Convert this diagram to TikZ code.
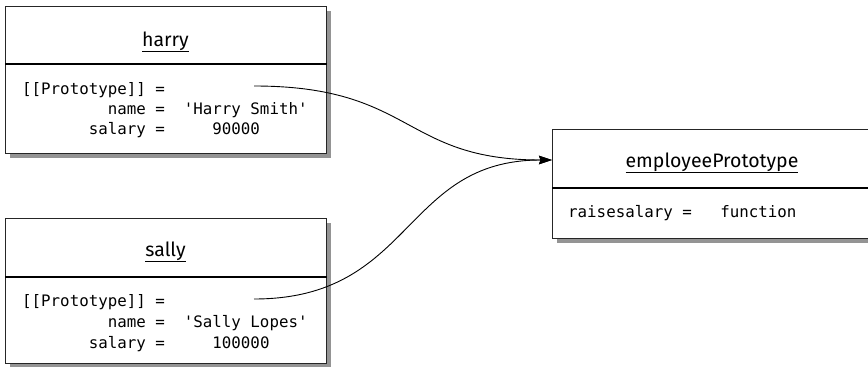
\documentclass[tikz,border=0pt]{standalone}
\usepackage{fontspec}
\setmainfont{Fira Sans}
\setmonofont{DejaVu Sans Mono}
\usetikzlibrary{arrows.meta,shadows}
\begin{document}
\begin{tikzpicture}[x=1pt,y=-1pt,
  objbox/.style={draw=black!85, line width=1.3pt, fill=white, inner sep=0pt, anchor=north west,
    drop shadow={shadow xshift=4.5pt, shadow yshift=-4.5pt, fill=black!42, opacity=1}},
  sep/.style={line width=2pt, black},
  ttl/.style={anchor=base, inner sep=0pt, font=\fontsize{19.5}{22}\selectfont},
  mono/.style={anchor=base west, inner sep=0pt, font=\fontsize{15.8}{19}\ttfamily},
  conn/.style={line width=0.9pt, black},
  tip/.style={-{Stealth[length=13pt,width=8.5pt,inset=1.5pt]}}
]
\useasboundingbox (0,0) rectangle (868,367);

% harry
\node[objbox, minimum width=321pt, minimum height=147pt] (harry) at (5,6) {};
\coordinate (hsep) at (5,64);
\draw[sep] (hsep) -- (hsep -| harry.east);
\node[ttl] (harryT) at (165.5,46) {\underline{harry}};
\node[mono] (h1) at (22,94) {[[Prototype]]~=};
\node[mono] (h2) at (22,114) {~~~~~~~~~name~=~~'Harry~Smith'};
\node[mono] (h3) at (22,134) {~~~~~~~salary~=~~~~~90000};
\coordinate (hp) at (254,86);

% sally
\node[objbox, minimum width=321pt, minimum height=145pt] (sally) at (5,218) {};
\coordinate (ssep) at (5,277);
\draw[sep] (ssep) -- (ssep -| sally.east);
\node[ttl] (sallyT) at (165.5,256) {\underline{sally}};
\node[mono] (s1) at (22,306) {[[Prototype]]~=};
\node[mono] (s2) at (22,327) {~~~~~~~~~name~=~~'Sally~Lopes'};
\node[mono] (s3) at (22,348) {~~~~~~~salary~=~~~~~100000};
\coordinate (sp) at (254,299);

% employeePrototype
\node[objbox, minimum width=330pt, minimum height=109pt] (emp) at (552,129) {};
\coordinate (esep) at (552,188);
\draw[sep] (esep) -- (esep -| emp.east);
\node[ttl] (empT) at (712,167) {\underline{employeePrototype}};
\node[mono] (e1) at (568,217) {raisesalary~=~~~function};
\coordinate (ein) at (552,160);

% connectors
\draw[conn, tip] (hp) .. controls +(160,0) and +(-150,0) .. (ein);
\draw[conn, tip] (sp) .. controls +(160,0) and +(-150,0) .. (ein);
\end{tikzpicture}
\end{document}
